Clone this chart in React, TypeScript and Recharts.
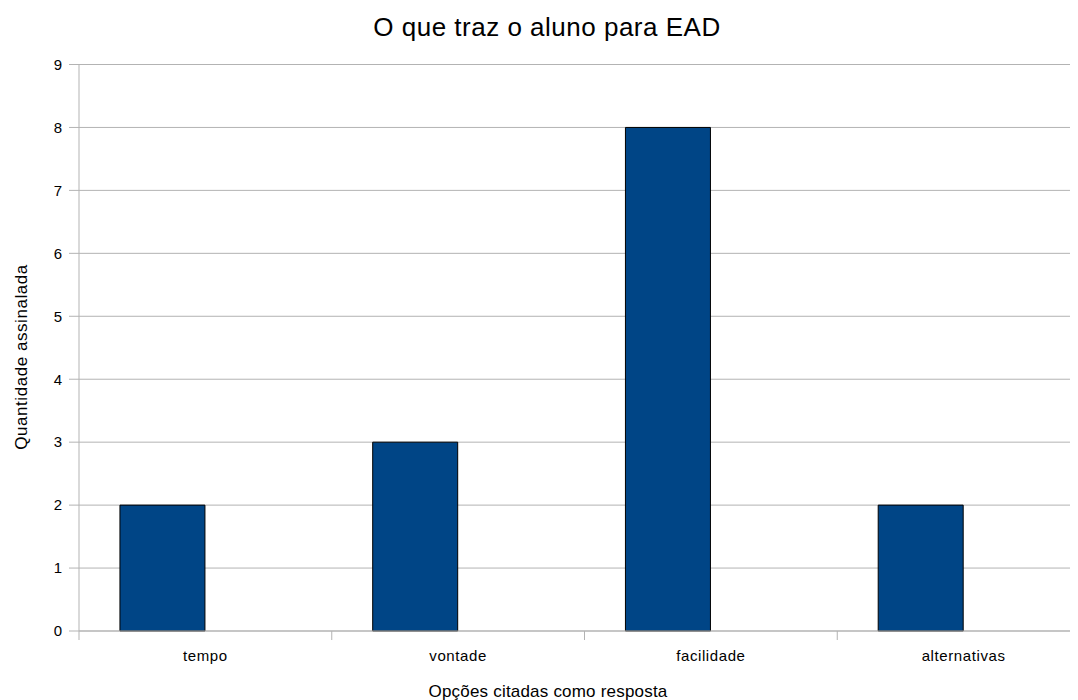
import React from 'react';
import { BarChart, Bar, XAxis, YAxis, CartesianGrid } from 'recharts';

const categories = ['tempo', 'vontade', 'facilidade', 'alternativas'];
const quantidade = [2, 3, 8, 2];
const yTicks = [0, 1, 2, 3, 4, 5, 6, 7, 8, 9];

const title = 'O que traz o aluno para EAD';
const xTitle = 'Opções citadas como resposta';
const yTitle = 'Quantidade assinalada';

const data = categories.map((c, i) => ({ name: c, quantidade: quantidade[i], vazio: null }));

const FONT = '"Liberation Sans", Arial, sans-serif';
const GRID = '#b3b3b3';

const XTick = (props: any) => {
  const { x, y, payload, index } = props;
  const off = payload && typeof payload.offset === 'number' ? payload.offset : 0;
  return (
    <g>
      <line x1={x - off} x2={x - off} y1={y} y2={y + 9} stroke={GRID} />
      {index === categories.length - 1 && (
        <line x1={x + off} x2={x + off} y1={y} y2={y + 9} stroke={GRID} />
      )}
      <text
        x={x}
        y={y + 30}
        textAnchor="middle"
        fontFamily={FONT}
        fontSize={15}
        letterSpacing={0.6}
        fill="#000"
      >
        {payload.value}
      </text>
    </g>
  );
};

export default function App() {
  return (
    <div style={{ position: 'relative', width: 1070, height: 692, overflow: 'hidden' }}>
      <BarChart
        width={1090}
        height={692}
        data={data}
        margin={{ top: 56.5, right: 8, bottom: 39, left: 11 }}
        barCategoryGap="16.2%"
        barGap={0}
      >
        <CartesianGrid vertical={false} stroke={GRID} />
        <XAxis
          dataKey="name"
          interval={0}
          height={30}
          tickSize={0}
          tickMargin={0}
          tickLine={false}
          axisLine={{ stroke: GRID }}
          tick={<XTick />}
        />
        <YAxis
          domain={[0, 9]}
          ticks={yTicks}
          interval={0}
          width={60}
          tickSize={10}
          tickMargin={7}
          axisLine={{ stroke: GRID }}
          tickLine={{ stroke: GRID }}
          tick={{ fill: '#000', fontSize: 15, fontFamily: FONT }}
        />
        <Bar dataKey="quantidade" fill="#004586" stroke="#000" strokeWidth={1} isAnimationActive={false} />
        <Bar dataKey="vazio" fill="none" isAnimationActive={false} />
      </BarChart>
      <svg
        width={1070}
        height={692}
        style={{ position: 'absolute', left: 0, top: 0, pointerEvents: 'none' }}
      >
        <text x={539} y={28} textAnchor="middle" fontFamily={FONT} fontSize={26} letterSpacing={0.5} fill="#000">
          {title}
        </text>
        <text x={540} y={689} textAnchor="middle" fontFamily={FONT} fontSize={17} letterSpacing={0.2} fill="#000">
          {xTitle}
        </text>
        <text
          x={19}
          y={349}
          transform="rotate(-90, 19, 349)"
          textAnchor="middle"
          fontFamily={FONT}
          fontSize={17}
          letterSpacing={0.55}
          fill="#000"
        >
          {yTitle}
        </text>
      </svg>
    </div>
  );
}
